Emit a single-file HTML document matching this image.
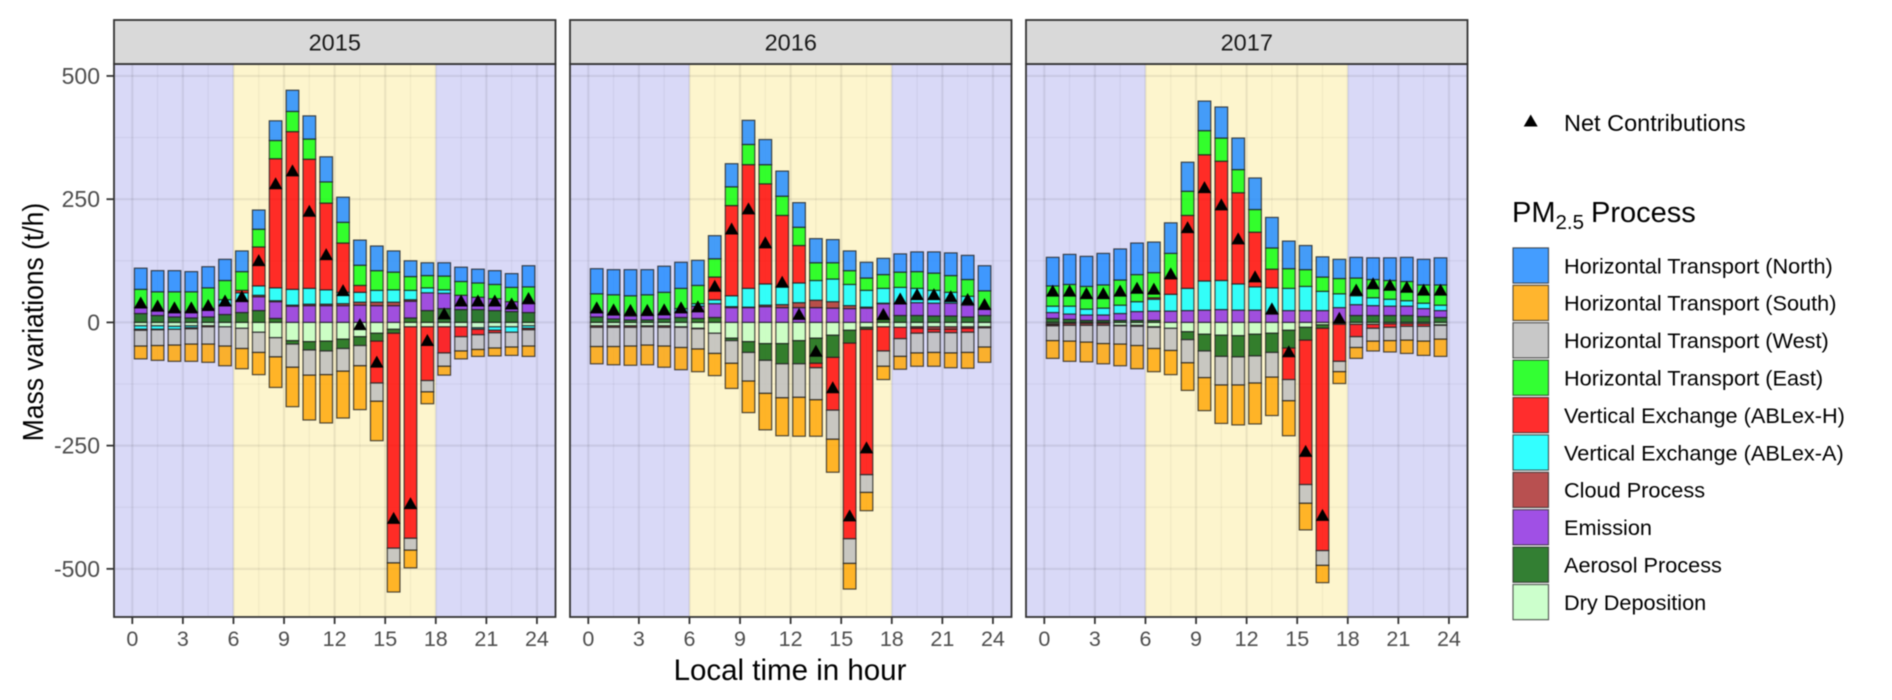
<!DOCTYPE html>
<html>
<head>
<meta charset="utf-8">
<title>PM2.5 process mass variations</title>
<style>
html,body{margin:0;padding:0;background:#fff;width:1892px;height:700px;overflow:hidden}
svg{display:block;filter:blur(0.45px)}
text{font-family:"Liberation Sans",Arial,sans-serif}
</style>
</head>
<body>
<svg id="chart" xmlns="http://www.w3.org/2000/svg" width="1892" height="700" viewBox="0 0 1892 700"></svg>
<script>
const years = ["2015", "2016", "2017"];
const xTickLabels = [0, 3, 6, 9, 12, 15, 18, 21, 24];
const yTickLabels = [500, 250, 0, -250, -500];
const yMinorTicks = [375, 125, -125, -375];
const dayStart = 6;
const dayEnd = 18;
const processNames = ["Horizontal Transport (North)", "Horizontal Transport (South)", "Horizontal Transport (West)", "Horizontal Transport (East)", "Vertical Exchange (ABLex-H)", "Vertical Exchange (ABLex-A)", "Cloud Process", "Emission", "Aerosol Process", "Dry Deposition"];

const north2015 = [43,43,43,41,43,43,42,39,40,43,47,51,51,51,50,43,32,26,27,29,28,28,28,43];
const south2015 = [-26,-30,-33,-35,-37,-40,-41,-45,-62,-80,-91,-98,-95,-89,-80,-59,-36,-24,-18,-16,-14,-16,-17,-21];
const west2015 = [-32,-32,-32,-31,-35,-39,-41,-41,-39,-47,-51,-48,-46,-41,-37,-30,-24,-23,-27,-29,-30,-31,-30,-33];
const east2015 = [37,39,40,41,42,39,38,36,37,41,41,43,42,41,40,36,28,25,28,28,29,29,29,34];
const ablexH2015 = [-2,-1,0,-2,-2,0,5,79,262,320,262,176,100,14,-85,-436,-429,-109,-53,-20,-11,-5,0,-3];
const ablexA2015 = [-7,-7,-6,-4,0,11,16,19,26,32,32,29,23,20,24,25,19,10,7,0,-3,-7,-11,-5];
const cloud2015 = [0,0,0,0,0,0,0,3,2,2,3,3,4,6,7,7,3,0,0,0,0,0,0,0];
const emission2015 = [12,9,11,12,17,19,24,28,34,33,34,34,34,35,34,34,34,36,31,29,25,24,20,18];
const aerosol2015 = [18,14,11,9,11,16,20,24,8,-7,-17,-20,-19,-18,-16,-8,9,24,28,26,26,24,22,20];
const dry2015 = [-7,-7,-8,-7,-7,-9,-12,-20,-31,-37,-39,-38,-34,-29,-22,-14,-9,-9,-9,-9,-11,-9,-9,-7];
const net2015 = [40,34,30,30,35,44,53,126,282,308,226,138,65,-4,-80,-397,-367,-36,18,44,44,44,38,49];

const north2016 = [51,51,53,51,53,53,51,47,47,49,51,51,50,49,47,40,32,33,37,40,43,46,49,51];
const south2016 = [-35,-37,-39,-40,-43,-45,-46,-45,-51,-64,-74,-77,-79,-74,-67,-52,-37,-27,-26,-27,-28,-30,-32,-31];
const west2016 = [-39,-39,-38,-37,-38,-41,-41,-41,-46,-58,-67,-69,-68,-65,-59,-50,-36,-31,-36,-40,-41,-41,-41,-39];
const east2016 = [38,41,41,42,45,41,37,37,38,41,39,39,37,36,33,28,25,28,31,34,35,34,34,37];
const ablexH2016 = [0,0,0,0,0,0,0,46,183,251,203,145,76,-9,-107,-397,-295,-49,-23,-10,-6,-7,-8,-2];
const ablexA2016 = [0,0,0,0,0,8,5,8,22,38,43,36,40,40,46,43,34,30,33,29,26,22,18,0];
const cloud2016 = [-3,-3,-3,-2,-3,-1,-1,0,2,1,3,6,10,15,13,6,2,1,0,-3,-5,-5,-3,0];
const emission2016 = [9,8,8,9,9,10,25,28,30,30,32,30,30,30,29,28,29,32,24,26,26,26,24,13];
const aerosol2016 = [11,7,5,5,7,10,8,10,-5,-22,-34,-41,-47,-51,-45,-26,-4,6,14,14,13,13,11,14];
const dry2016 = [-7,-7,-7,-7,-7,-9,-12,-22,-32,-39,-43,-43,-37,-32,-26,-16,-10,-9,-10,-9,-9,-9,-9,-9];
const net2016 = [30,26,25,25,26,30,32,74,190,231,162,82,17,-58,-132,-392,-254,17,48,57,57,53,47,37];

const north2017 = [58,61,61,64,63,64,62,62,59,60,63,64,64,62,56,49,41,39,42,44,46,49,52,55];
const south2017 = [-36,-41,-40,-41,-44,-47,-47,-49,-56,-67,-78,-81,-83,-78,-71,-54,-35,-24,-22,-20,-23,-27,-29,-35];
const west2017 = [-30,-32,-34,-37,-37,-39,-43,-45,-47,-54,-58,-57,-55,-50,-43,-38,-30,-21,-22,-26,-27,-28,-30,-28];
const east2017 = [41,44,46,47,51,55,51,51,49,49,47,47,46,43,40,34,29,31,36,37,38,39,37,41];
const ablexH2017 = [-2,0,0,0,0,0,3,32,148,256,242,185,111,38,-64,-293,-451,-75,-25,-8,-7,-5,-5,-1];
const ablexA2017 = [13,16,12,14,17,20,24,34,45,59,59,53,47,53,45,49,39,28,18,16,14,11,11,11];
const cloud2017 = [-2,-4,-4,-4,-1,-2,-1,0,0,0,0,0,0,0,0,0,0,0,0,0,0,0,0,0];
const emission2017 = [12,11,11,11,14,18,19,23,24,25,26,25,25,17,24,24,24,30,22,20,19,19,16,14];
const aerosol2017 = [8,6,4,4,4,4,4,0,-16,-34,-43,-43,-44,-39,-36,-26,-7,0,14,14,14,14,12,10];
const dry2017 = [-3,-2,-2,-2,-6,-6,-9,-12,-19,-24,-26,-27,-24,-22,-16,-10,-5,-4,-4,-4,-3,-3,-3,-5];
const net2017 = [64,64,59,59,64,70,68,99,193,274,239,170,93,28,-59,-261,-391,9,66,79,76,72,66,66];

const series2015 = [north2015, south2015, west2015, east2015, ablexH2015, ablexA2015, cloud2015, emission2015, aerosol2015, dry2015];
const series2016 = [north2016, south2016, west2016, east2016, ablexH2016, ablexA2016, cloud2016, emission2016, aerosol2016, dry2016];
const series2017 = [north2017, south2017, west2017, east2017, ablexH2017, ablexA2017, cloud2017, emission2017, aerosol2017, dry2017];
const seriesByYear = [series2015, series2016, series2017];
const netByYear = [net2015, net2016, net2017];

const fills = ["rgb(35,140,255)", "rgb(255,168,9)", "rgb(190,190,190)", "rgb(15,255,15)", "rgb(255,8,8)", "rgb(15,255,255)", "rgb(171,49,49)", "rgb(143,49,225)", "rgb(15,105,15)", "rgb(195,255,195)"];
const slugs = ["north", "south", "west", "east", "ablex-h", "ablex-a", "cloud", "emission", "aerosol", "dry-deposition"];

const NS = "http://www.w3.org/2000/svg";
const svg = document.getElementById("chart");
const panelWidth = 441.5;
const panelStep = 456;
const panelLeft = 114;
const panelTop = 64;
const panelBottom = 617;
const stripTop = 20;
const xOffset = 18.3;
const hourPx = 16.86;
const zeroY = 322.4;
const unitPx = 0.4929;
const barFrac = 0.75;

function yScale(v) { return zeroY - unitPx * v; }
function xScale(panel, h) { return panelLeft + panel * panelStep + xOffset + hourPx * h; }
function make(tag, attrs, parent) {
  const el = document.createElementNS(NS, tag);
  for (const k in attrs) el.setAttribute(k, attrs[k]);
  (parent || svg).appendChild(el);
  return el;
}

years.forEach(function (year, p) {
  const left = panelLeft + p * panelStep;
  const right = left + panelWidth;
  const group = make("g", {});
  
  

  const nightA = make("rect", {x: left, y: panelTop, width: xScale(p, dayStart) - left, height: panelBottom - panelTop, fill: "#d9d9f7"}, group);
  
  
  const day = make("rect", {x: xScale(p, dayStart), y: panelTop, width: xScale(p, dayEnd) - xScale(p, dayStart), height: panelBottom - panelTop, fill: "#fdf5cd"}, group);
  
  
  const nightB = make("rect", {x: xScale(p, dayEnd), y: panelTop, width: right - xScale(p, dayEnd), height: panelBottom - panelTop, fill: "#d9d9f7"}, group);
  
  

  yMinorTicks.forEach(function (v) {
    const g = make("line", {x1: left, x2: right, y1: yScale(v), y2: yScale(v), stroke: "#000", "stroke-opacity": 0.045, "stroke-width": 1.3}, group);
    
    
  });
  yTickLabels.forEach(function (v) {
    const g = make("line", {x1: left, x2: right, y1: yScale(v), y2: yScale(v), stroke: "#000", "stroke-opacity": 0.07, "stroke-width": 2.2}, group);
    
    
  });
  xTickLabels.forEach(function (h, i) {
    const g = make("line", {x1: xScale(p, h), x2: xScale(p, h), y1: panelTop, y2: panelBottom, stroke: "#000", "stroke-opacity": 0.07, "stroke-width": 2.2}, group);
    
    
    if (i < xTickLabels.length - 1) {
      const mid = (h + xTickLabels[i + 1]) / 2;
      const m = make("line", {x1: xScale(p, mid), x2: xScale(p, mid), y1: panelTop, y2: panelBottom, stroke: "#000", "stroke-opacity": 0.045, "stroke-width": 1.3}, group);
      
      
    }
  });

  const series = seriesByYear[p];
  const hours = series[0].length;
  for (let h = 0; h < hours; h++) {
    let pos = 0, neg = 0;
    for (let s = series.length - 1; s >= 0; s--) {
      const v = series[s][h];
      if (!v) continue;
      let a, b;
      if (v > 0) { a = pos; pos += v; b = pos; }
      else { a = neg; neg += v; b = neg; }
      const yTop = yScale(Math.max(a, b));
      const yBot = yScale(Math.min(a, b));
      const bar = make("rect", {
        x: xScale(p, h + 0.5 - barFrac / 2), y: yTop,
        width: hourPx * barFrac, height: yBot - yTop,
        fill: fills[s], "fill-opacity": 0.85,
        stroke: "#222", "stroke-opacity": 0.8, "stroke-width": 1.2
      }, group);
      
      
    }
  }
  netByYear[p].forEach(function (v, h) {
    const cx = xScale(p, h + 0.5), cy = yScale(v);
    const t = make("polygon", {points: (cx - 6.8) + "," + (cy + 5.8) + " " + (cx + 6.8) + "," + (cy + 5.8) + " " + cx + "," + (cy - 6.2), fill: "#000"}, group);
    
    
  });

  const border = make("rect", {x: left, y: panelTop, width: panelWidth, height: panelBottom - panelTop, fill: "none", stroke: "#333", "stroke-width": 1.8}, group);
  
  

  const strip = make("rect", {x: left, y: stripTop, width: panelWidth, height: panelTop - stripTop, fill: "#d9d9d9", stroke: "#333", "stroke-width": 1.8}, group);
  
  
  const stripText = make("text", {x: left + panelWidth / 2, y: 50.5, "text-anchor": "middle", "font-size": 23.5, fill: "#1a1a1a"}, group);
  stripText.textContent = year;
  
  

  xTickLabels.forEach(function (h) {
    const tick = make("line", {x1: xScale(p, h), x2: xScale(p, h), y1: panelBottom, y2: panelBottom + 7, stroke: "#333", "stroke-width": 1.8}, group);
    
    
    const label = make("text", {x: xScale(p, h), y: 646, "text-anchor": "middle", "font-size": 21.5, fill: "#4d4d4d"}, group);
    label.textContent = h;
    
    
  });
});

yTickLabels.forEach(function (v) {
  const tick = make("line", {x1: panelLeft - 7.5, x2: panelLeft, y1: yScale(v), y2: yScale(v), stroke: "#333", "stroke-width": 1.8});
  
  
  const label = make("text", {x: 100, y: yScale(v) + 8, "text-anchor": "end", "font-size": 23, fill: "#4d4d4d"});
  label.textContent = v;
  
  
});

const yTitle = make("text", {transform: "translate(43,322) rotate(-90) scale(1,1.1)", "text-anchor": "middle", "font-size": 26.5, fill: "#000"});
yTitle.textContent = "Mass variations (t/h)";



const xTitle = make("text", {x: 790, y: 680, "text-anchor": "middle", "font-size": 29.5, fill: "#000"});
xTitle.textContent = "Local time in hour";



const netKey = make("polygon", {points: "1523.7,126.5 1537.7,126.5 1530.7,114.5", fill: "#000"});


const netLabel = make("text", {x: 1564, y: 131, "font-size": 23.5, fill: "#000"});
netLabel.textContent = "Net Contributions";



const legendTitle = make("text", {x: 1512, y: 222, "font-size": 29, fill: "#000"});


const t1 = make("tspan", {}, legendTitle);
t1.textContent = "PM";
const t2 = make("tspan", {dy: 7, "font-size": 20.5}, legendTitle);
t2.textContent = "2.5";
const t3 = make("tspan", {dy: -7, dx: 7}, legendTitle);
t3.textContent = "Process";

processNames.forEach(function (name, i) {
  const center = 265.5 + i * 37.4;
  const key = make("rect", {x: 1513, y: center - 17.6, width: 35.5, height: 35.2, fill: fills[i], "fill-opacity": 0.85, stroke: "#222", "stroke-opacity": 0.72, "stroke-width": 1.2});
  
  
  const label = make("text", {x: 1564, y: center + 7.8, "font-size": 21.7, fill: "#000"});
  label.textContent = name;
  
  
});
</script>
</body>
</html>
